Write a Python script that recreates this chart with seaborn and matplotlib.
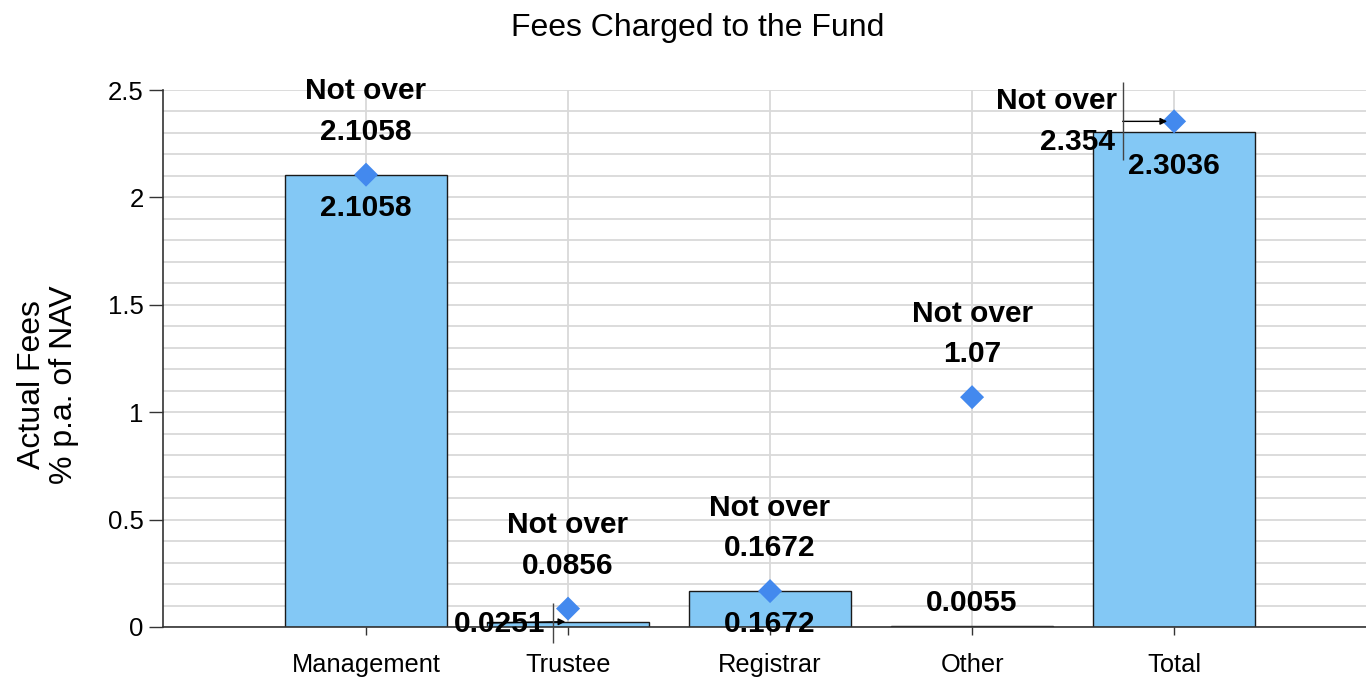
import numpy as np
import matplotlib
matplotlib.use("Agg")
import matplotlib.pyplot as plt
import matplotlib.transforms as mtransforms
import seaborn as sns

categories = ["Management", "Trustee", "Registrar", "Other", "Total"]
actual_fees = [2.1058, 0.0251, 0.1672, 0.0055, 2.3036]
max_fees = [2.1058, 0.0856, 0.1672, 1.07, 2.354]
ytick_vals = [0, 0.5, 1, 1.5, 2, 2.5]
ytick_text = ["0", "0.5", "1", "1.5", "2", "2.5"]

sns.set_style("white")
plt.rcParams["font.family"] = ["Liberation Sans", "DejaVu Sans"]
plt.rcParams["text.color"] = "black"
plt.rcParams["xtick.labelcolor"] = "black"
plt.rcParams["ytick.labelcolor"] = "black"

fig = plt.figure(figsize=(13.66, 6.83), dpi=100)
ax = fig.add_axes([163 / 1366, 56 / 683, 1 - 163 / 1366, 537 / 683])

sns.barplot(x=categories, y=actual_fees, color="#83C8F5", saturation=1,
            edgecolor="#1a1a1a", linewidth=1, width=0.8, ax=ax, zorder=2)
sns.scatterplot(x=categories, y=max_fees, marker="D", s=150, color="#4389EE",
                edgecolor="none", ax=ax, zorder=4, clip_on=False)

ax.set_xlim(-1.005, 4.95)
ax.set_ylim(0, 2.5)
ax.set_yticks(np.arange(0, 2.51, 0.1), minor=True)
ax.set_yticks(ytick_vals)
ax.set_yticklabels(ytick_text, fontsize=18.5)
ax.set_xticks(range(len(categories)))
ax.set_xticklabels(categories, fontsize=18.3)
ax.tick_params(axis="y", which="major", length=10, width=1, color="#333333", pad=4, left=True)
ax.tick_params(axis="y", which="minor", length=0)
ax.tick_params(axis="x", length=6, width=1, color="#333333", pad=13, bottom=True)
ax.grid(True, which="both", axis="y", color="#d9d9d9", lw=1.3, zorder=0)
ax.grid(True, which="major", axis="x", color="#d9d9d9", lw=1.3, zorder=0)
ax.set_axisbelow(True)
for s in ["top", "right"]:
    ax.spines[s].set_visible(False)
for s in ["left", "bottom"]:
    ax.spines[s].set_color("#333333")
    ax.spines[s].set_linewidth(1.2)
ax.set_xlabel("")
ax.set_ylabel("")

bold = dict(fontsize=21.5, fontweight="bold", ha="center", va="center", color="black",
            textcoords="offset points", annotation_clip=False)

# "Not over" labels above the diamonds
for i, v in enumerate(max_fees):
    if categories[i] == "Total":
        continue
    ax.annotate("Not over", xy=(i, v), xytext=(0, 60), **bold)
    ax.annotate(f"{v:g}", xy=(i, v), xytext=(0, 31), **bold)

# actual fee labels
for i, v in enumerate(actual_fees):
    if categories[i] in ("Trustee",):
        continue
    if categories[i] == "Other":
        ax.annotate(f"{v:.4f}", xy=(i, v), xytext=(0, 16.5), **bold)
    else:
        ax.annotate(f"{v:.4f}", xy=(i, v), xytext=(0, -24), **bold)

# Trustee actual label pushed left with a leader arrow
t = categories.index("Trustee")
ax.annotate("", xy=(t, actual_fees[t]), xytext=(-58, -1), textcoords="offset points",
            arrowprops=dict(arrowstyle="-|>", color="black", lw=1, shrinkA=0, shrinkB=2,
                            mutation_scale=10), zorder=5)
ax.annotate(f"{actual_fees[t]:.4f}", xy=(t, actual_fees[t]), xytext=(-16.5, -1.5),
            **{**bold, "ha": "right"})
tr = mtransforms.offset_copy(ax.transData, fig=fig, x=-11, y=-1, units="points")
ax.plot([t], [actual_fees[t]], marker="|", markersize=29, color="#444444",
        markeredgewidth=1, transform=tr, clip_on=False, zorder=5)

# Total limit label pushed left with a leader arrow
k = categories.index("Total")
ax.annotate("Not over", xy=(k, max_fees[k]), xytext=(-41, 14.5), **{**bold, "ha": "right"})
ax.annotate(f"{max_fees[k]:g}", xy=(k, max_fees[k]), xytext=(-42.5, -15), **{**bold, "ha": "right"})
ax.annotate("", xy=(k, max_fees[k]), xytext=(-37, 0), textcoords="offset points",
            arrowprops=dict(arrowstyle="-|>", color="black", lw=1, shrinkA=0, shrinkB=5,
                            mutation_scale=10), zorder=5, annotation_clip=False)
tr2 = mtransforms.offset_copy(ax.transData, fig=fig, x=-37, y=0, units="points")
ax.plot([k], [max_fees[k]], marker="|", markersize=56, color="#444444",
        markeredgewidth=1, transform=tr2, clip_on=False, zorder=5)

fig.text(698 / 1366, 1 - 28 / 683, "Fees Charged to the Fund", fontsize=23,
         ha="center", va="center", color="black")
fig.text(48 / 1366, 1 - 385 / 683, "Actual Fees\n% p.a. of NAV", fontsize=23, color="black",
         rotation=90, ha="center", va="center", multialignment="center", linespacing=1.12)

fig.savefig("out.png", dpi=100)
